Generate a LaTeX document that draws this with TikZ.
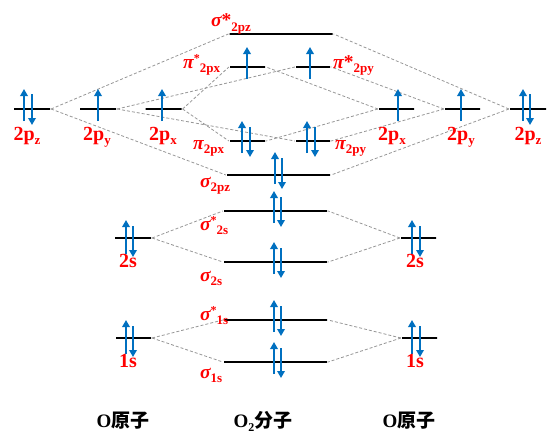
\documentclass[tikz,border=0pt]{standalone}
\usepackage{fontspec}
\setmainfont{Liberation Serif}
\newfontfamily\cjk{Noto Sans CJK SC}
\usetikzlibrary{arrows.meta}
\definecolor{elblue}{RGB}{0,112,192}
\definecolor{lblred}{RGB}{255,0,0}
\definecolor{conngray}{RGB}{150,150,150}
\newcommand{\lsub}[1]{\raisebox{-4.5pt}{\fontsize{13}{13}\selectfont #1}}
\newcommand{\lsup}{\raisebox{6pt}{\fontsize{12}{12}\selectfont *}}
\tikzset{
  lvl/.style={draw, line width=2.2pt, inner sep=0pt, minimum height=0pt, minimum width=#1},
  conn/.style={draw=conngray, line width=0.8pt, dash pattern=on 3pt off 2pt},
  spin/.style={draw=elblue, line width=2.4pt, -{Triangle[length=7pt,width=7.5pt]}},
  aolabel/.style={text=lblred, inner sep=0pt, anchor=base, font=\fontsize{20}{24}\selectfont\bfseries},
  molabel/.style={text=lblred, inner sep=0pt, anchor=base west, font=\fontsize{19.5}{22}\selectfont\bfseries},
  namelabel/.style={inner sep=0pt, anchor=base, font=\fontsize{19}{22}\selectfont\bfseries}
}
\begin{document}
\begin{tikzpicture}[x=1pt,y=-1pt]
\useasboundingbox (0,0) rectangle (549,447);
\node[lvl=36pt] (L2pz) at (32,109) {};
\node[lvl=36pt] (L2py) at (98,109) {};
\node[lvl=36pt] (L2px) at (163.5,109) {};
\node[lvl=36pt] (L2s) at (133,238) {};
\node[lvl=35pt] (L1s) at (133.5,338) {};
\node[lvl=35pt] (R2px) at (396.5,109) {};
\node[lvl=35pt] (R2py) at (462.5,109) {};
\node[lvl=36pt] (R2pz) at (528,109) {};
\node[lvl=35pt] (R2s) at (418.5,238) {};
\node[lvl=35pt] (R1s) at (419.5,338) {};
\node[lvl=103pt] (S2pzs) at (281,34) {};
\node[lvl=35pt] (P2pxs) at (247.5,67) {};
\node[lvl=34pt] (P2pys) at (313,67) {};
\node[lvl=35pt] (P2px) at (247.5,141) {};
\node[lvl=34pt] (P2py) at (313,141) {};
\node[lvl=103pt] (S2pz) at (278.5,175) {};
\node[lvl=103pt] (S2ss) at (275.5,211) {};
\node[lvl=103pt] (S2s) at (275.5,262) {};
\node[lvl=103pt] (S1ss) at (275.5,320) {};
\node[lvl=103pt] (S1s) at (275.5,362) {};
\draw[conn] (L2pz.east) -- (S2pzs.west);
\draw[conn] (L2pz.east) -- (S2pz.west);
\draw[conn] (L2py.east) -- (P2pys.west);
\draw[conn] (L2py.east) -- (P2py.west);
\draw[conn] (L2px.east) -- (P2pxs.west);
\draw[conn] (L2px.east) -- (P2px.west);
\draw[conn] (R2pz.west) -- (S2pzs.east);
\draw[conn] (R2pz.west) -- (S2pz.east);
\draw[conn] (R2py.west) -- (P2pys.east);
\draw[conn] (R2py.west) -- (P2py.east);
\draw[conn] (R2px.west) -- (P2pxs.east);
\draw[conn] (R2px.west) -- (P2px.east);
\draw[conn] (L2s.east) -- (S2ss.west);
\draw[conn] (L2s.east) -- (S2s.west);
\draw[conn] (R2s.west) -- (S2ss.east);
\draw[conn] (R2s.west) -- (S2s.east);
\draw[conn] (L1s.east) -- (S1ss.west);
\draw[conn] (L1s.east) -- (S1s.west);
\draw[conn] (R1s.west) -- (S1ss.east);
\draw[conn] (R1s.west) -- (S1s.east);
\draw[spin] (24,121) -- (24,89);
\draw[spin] (32,94) -- (32,125);
\draw[spin] (98,121) -- (98,89);
\draw[spin] (162,121) -- (162,89);
\draw[spin] (398,121) -- (398,89);
\draw[spin] (461,121) -- (461,89);
\draw[spin] (523,121) -- (523,89);
\draw[spin] (530,94) -- (530,125);
\draw[spin] (126,254) -- (126,220);
\draw[spin] (133,226) -- (133,257);
\draw[spin] (412,254) -- (412,220);
\draw[spin] (420,226) -- (420,257);
\draw[spin] (126,354) -- (126,320);
\draw[spin] (133,326) -- (133,357);
\draw[spin] (412,354) -- (412,320);
\draw[spin] (420,326) -- (420,357);
\draw[spin] (247,79) -- (247,47);
\draw[spin] (310,79) -- (310,47);
\draw[spin] (242,153) -- (242,121);
\draw[spin] (250,127) -- (250,157);
\draw[spin] (307,153) -- (307,121);
\draw[spin] (315,127) -- (315,157);
\draw[spin] (275,184) -- (275,152);
\draw[spin] (282,158) -- (282,189);
\draw[spin] (274,223) -- (274,191);
\draw[spin] (281,197) -- (281,227);
\draw[spin] (274,274) -- (274,242);
\draw[spin] (281,248) -- (281,278);
\draw[spin] (274,332) -- (274,300);
\draw[spin] (281,306) -- (281,336);
\draw[spin] (274,374) -- (274,342);
\draw[spin] (281,348) -- (281,378);
\node[aolabel] (tL2pz) at (27,140) {2p\lsub{z}};
\node[aolabel] (tL2py) at (97,140) {2p\lsub{y}};
\node[aolabel] (tL2px) at (163,140) {2p\lsub{x}};
\node[aolabel] (tR2px) at (392,140) {2p\lsub{x}};
\node[aolabel] (tR2py) at (461,140) {2p\lsub{y}};
\node[aolabel] (tR2pz) at (528,140) {2p\lsub{z}};
\node[aolabel] (tL2s) at (128,267) {2s};
\node[aolabel] (tL1s) at (128,367) {1s};
\node[aolabel] (tR2s) at (415,267) {2s};
\node[aolabel] (tR1s) at (415,367) {1s};
\node[molabel] (tS2pzs) at (211,27) {{\itshape σ}*\lsub{2pz}};
\node[molabel] (tP2pxs) at (183,68) {{\itshape π}\lsup\lsub{2px}};
\node[molabel] (tP2pys) at (333,68) {{\itshape π}*\lsub{2py}};
\node[molabel] (tP2px) at (193,149) {{\itshape π}\lsub{2px}};
\node[molabel] (tP2py) at (335,149) {{\itshape π}\lsub{2py}};
\node[molabel] (tS2pz) at (200,187) {{\itshape σ}\lsub{2pz}};
\node[molabel] (tS2ss) at (200,230) {{\itshape σ}\lsup\lsub{2s}};
\node[molabel] (tS2s) at (200,281) {{\itshape σ}\lsub{2s}};
\node[molabel] (tS1ss) at (200,320) {{\itshape σ}\lsup\lsub{1s}};
\node[molabel] (tS1s) at (200,378) {{\itshape σ}\lsub{1s}};
\node[namelabel] (nLeft) at (123,427) {O{\cjk 原子}};
\node[namelabel] (nMid) at (263,427) {O\raisebox{-4pt}{\fontsize{12}{12}\selectfont 2}{\cjk 分子}};
\node[namelabel] (nRight) at (409,427) {O{\cjk 原子}};
\end{tikzpicture}
\end{document}
